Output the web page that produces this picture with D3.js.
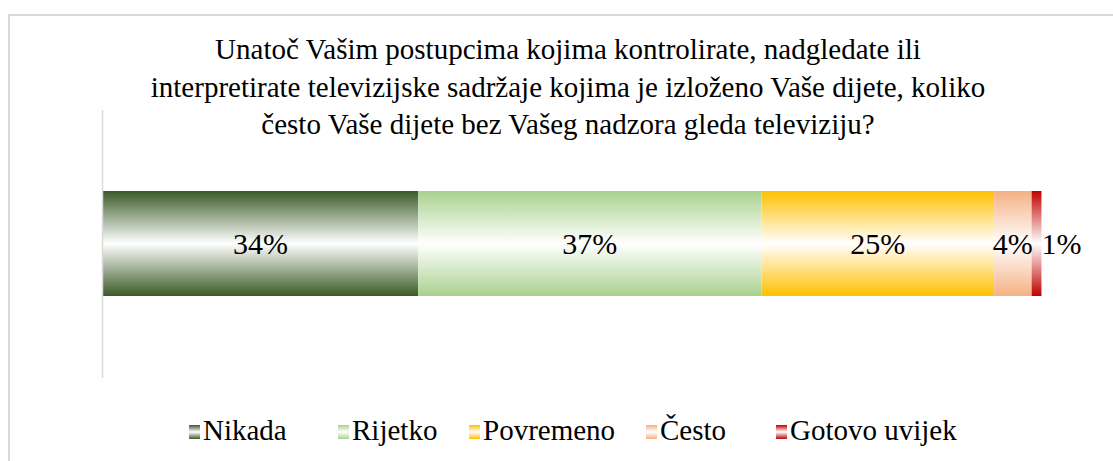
<!DOCTYPE html>
<html><head><meta charset="utf-8">
<script src="https://cdn.jsdelivr.net/npm/d3@7"></script>
<style>
body{margin:0;background:#fff;font-family:"Liberation Serif";}
svg{display:block}
svg text, svg tspan{font-family:"Liberation Serif" !important;}
</style>
</head><body>
<svg id="c" width="1113" height="461" font-family="Liberation Serif"></svg>
<script>
const titleLines = ["Unatoč Vašim postupcima kojima kontrolirate, nadgledate ili",
  "interpretirate televizijske sadržaje kojima je izloženo Vaše dijete, koliko",
  "često Vaše dijete bez Vašeg nadzora gleda televiziju?"];
const categories = ["Nikada","Rijetko","Povremeno","Često","Gotovo uvijek"];
const values = [33.6, 36.6, 24.8, 4.0, 1.05];
const labels = ["34%","37%","25%","4%","1%"];
const colors = ["#3b5a27","#a9d18e","#ffc000","#f4b183","#c00000"];

const svg = d3.select("#c");
const ff = () => '"Liberation Serif"';

// frame
svg.append("path").attr("d","M9,461 V15 H1113").attr("fill","none").attr("stroke","#d9d9d9").attr("stroke-width",2);

// gradients
const defs = svg.append("defs");
colors.forEach((c,i)=>{
  const g = defs.append("linearGradient").attr("id","g"+i).attr("x1",0).attr("y1",0).attr("x2",0).attr("y2",1);
  g.append("stop").attr("offset","0%").attr("stop-color",c);
  g.append("stop").attr("offset","50%").attr("stop-color","#ffffff");
  g.append("stop").attr("offset","100%").attr("stop-color",c);
});

// title
svg.selectAll("text.title").data(titleLines).join("text").attr("class","title")
  .attr("x",568).attr("y",(d,i)=>59+i*37.5).attr("text-anchor","middle")
  .attr("font-family","Liberation Serif")
  .style("font-family",ff).style("font-size","29px").text(d=>d);

const x = d3.scaleLinear().domain([0,100]).range([103,1041]);

const stack = [];
let acc = 0;
values.forEach((v,i)=>{stack.push({i,v,x0:acc,x1:acc+v,label:labels[i]});acc+=v;});

const bh = 105;
const by = 191;

svg.selectAll("rect.bar").data(stack).join("rect").attr("class","bar")
  .attr("x",d=>x(d.x0)).attr("width",d=>x(d.x1)-x(d.x0))
  .attr("y",by).attr("height",bh).attr("fill",d=>"url(#g"+d.i+")");

// axis line
svg.append("line").attr("x1",102.5).attr("x2",102.5).attr("y1",110).attr("y2",378).attr("stroke","#d9d9d9").attr("stroke-width",1.5);

svg.selectAll("text.lbl").data(stack).join("text").attr("class","lbl")
  .attr("font-family","Liberation Serif")
  .style("font-family",ff).style("font-size","30px").attr("text-anchor","middle")
  .attr("x",d=> d.i===4 ? x(d.x1)+20 : (x(d.x0)+x(d.x1))/2)
  .attr("y",by+bh/2+10).text(d=>d.label);

// legend
const legX = [189, 338, 469, 646, 776];
const lg = svg.selectAll("g.leg").data(categories).join("g").attr("class","leg")
  .attr("transform",(d,i)=>`translate(${legX[i]},0)`);
lg.append("rect").attr("x",0).attr("y",425).attr("width",11).attr("height",14).attr("fill",(d,i)=>"url(#g"+i+")");
lg.append("text").attr("x",14).attr("y",440).attr("font-family","Liberation Serif")
  .style("font-family",ff).style("font-size","29px").text(d=>d);
</script>
</body></html>
